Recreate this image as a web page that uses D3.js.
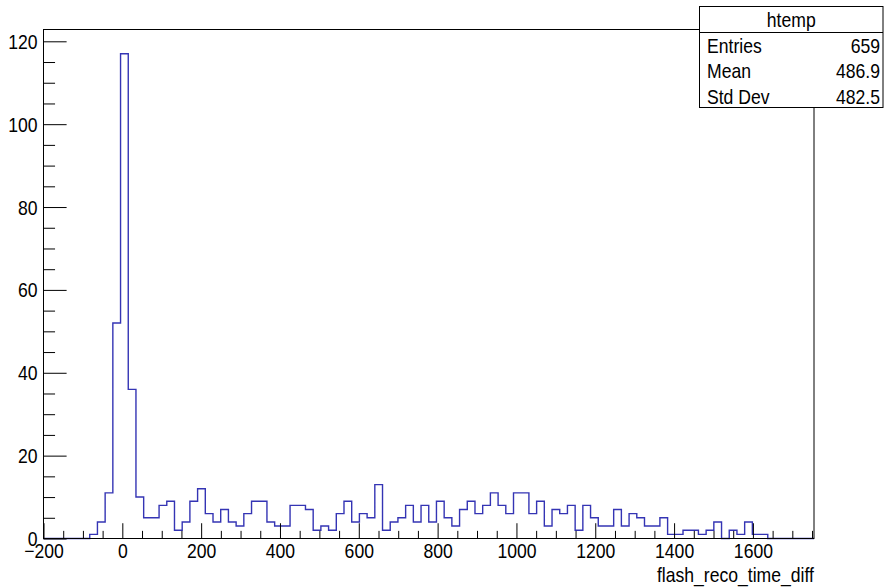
<!DOCTYPE html>
<html>
<head>
<meta charset="utf-8">
<script src="https://cdn.jsdelivr.net/npm/d3@7"></script>
<style>
  html, body { margin: 0; padding: 0; background: #fff; }
  svg { display: block; }
  text { font-family: "Liberation Sans", Arial, Helvetica, sans-serif; fill: #000; }
</style>
</head>
<body>
<svg id="chart" width="884" height="587"></svg>
<script>
// Histogram of flash_reco_time_diff: 100 equal bins between xMin and xMax
const histName = "htemp";
const xTitle = "flash_reco_time_diff";
const xMin = -200;
const xMax = 1755;
const binCounts = [
  0, 0, 0, 0, 0, 0, 1, 4, 11, 52,
  117, 36, 10, 5, 5, 8, 9, 2, 4, 9,
  12, 6, 4, 7, 4, 3, 6, 9, 9, 4,
  3, 3, 8, 8, 7, 2, 3, 2, 6, 9,
  4, 6, 5, 13, 2, 4, 5, 8, 4, 8,
  4, 9, 5, 3, 7, 9, 6, 8, 11, 8,
  6, 11, 11, 6, 9, 3, 7, 6, 8, 2,
  8, 5, 3, 3, 7, 3, 6, 5, 3, 3,
  5, 1, 1, 2, 2, 1, 2, 4, 0, 2,
  1, 4, 1, 1, 0, 0, 0, 0, 0, 0
];
const statLabels = ["Entries", "Mean", "Std Dev"];
const statValues = ["659", "486.9", "482.5"];
const xMajorTicks = [-200, 0, 200, 400, 600, 800, 1000, 1200, 1400, 1600];
const yMajorTicks = [0, 20, 40, 60, 80, 100, 120];

const svg = d3.select("#chart");
const frame = { left: 43.5, right: 814, top: 29.5, bottom: 538.5 };
const textScale = "scale(0.88,1)";
const lineColor = "#3434b4";

const nBins = binCounts.length;
const binWidth = (xMax - xMin) / nBins;
const yMax = 1.05 * d3.max(binCounts);

const x = d3.scaleLinear().domain([xMin, xMax]).range([frame.left, frame.right]);
const y = d3.scaleLinear().domain([0, yMax]).range([frame.bottom, frame.top]);

// step outline of the histogram
const pts = [[xMin, 0]];
binCounts.forEach((c, i) => {
  const lo = xMin + i * binWidth, hi = lo + binWidth;
  pts.push([lo, c], [hi, c]);
});
pts.push([xMax, 0]);
svg.append("path")
  .datum(pts)
  .attr("fill", "none")
  .attr("stroke", lineColor)
  .attr("stroke-width", 1.4)
  .attr("d", d3.line().x(d => x(d[0])).y(d => y(d[1])));

// frame
svg.append("rect")
  .attr("x", frame.left).attr("y", frame.top)
  .attr("width", frame.right - frame.left)
  .attr("height", frame.bottom - frame.top)
  .attr("fill", "none").attr("stroke", "#000").attr("stroke-width", 1);

// axes: ticks point into the frame
const frameW = frame.right - frame.left;
const frameH = frame.bottom - frame.top;
const xMinor = d3.range(-150, xMax, 50).filter(v => v % 200 !== 0);
const yMinor = d3.range(5, yMax, 5).filter(v => v % 20 !== 0);

function styleAxis(g) {
  g.select(".domain").remove();
  g.selectAll(".tick line").attr("stroke", "#000").attr("stroke-width", 1);
}

svg.append("g")
  .attr("transform", `translate(0,${frame.bottom})`)
  .call(d3.axisBottom(x).tickValues(xMinor).tickSize(-0.015 * frameH).tickFormat(""))
  .call(styleAxis);

const gx = svg.append("g")
  .attr("transform", `translate(0,${frame.bottom})`)
  .call(d3.axisBottom(x).tickValues(xMajorTicks).tickSize(-0.03 * frameH).tickFormat(d3.format("d")))
  .call(styleAxis);
gx.selectAll(".tick text")
  .attr("y", 19.5).attr("dy", null)
  .attr("transform", textScale)
  .style("font-size", "20px");

svg.append("g")
  .attr("transform", `translate(${frame.left},0)`)
  .call(d3.axisLeft(y).tickValues(yMinor).tickSize(-0.015 * frameW).tickFormat(""))
  .call(styleAxis);

const gy = svg.append("g")
  .attr("transform", `translate(${frame.left},0)`)
  .call(d3.axisLeft(y).tickValues(yMajorTicks).tickSize(-0.03 * frameW).tickFormat(d3.format("d")))
  .call(styleAxis);
gy.selectAll(".tick text")
  .attr("x", 0).attr("dy", "0.35em")
  .attr("transform", "translate(-6,0) " + textScale)
  .attr("text-anchor", "end")
  .style("font-size", "20px");

// axis title
svg.append("text")
  .attr("transform", `translate(${frame.right},582) ${textScale}`)
  .attr("text-anchor", "end")
  .style("font-size", "20px")
  .text(xTitle);

// statistics box
const box = { left: 699.5, right: 883, top: 6.5, bottom: 107.5, sep: 32.5 };
svg.append("rect")
  .attr("x", box.left).attr("y", box.top)
  .attr("width", box.right - box.left).attr("height", box.bottom - box.top)
  .attr("fill", "#fff").attr("stroke", "#000").attr("stroke-width", 1);
svg.append("line")
  .attr("x1", box.left).attr("x2", box.right)
  .attr("y1", box.sep).attr("y2", box.sep)
  .attr("stroke", "#000");
svg.append("text")
  .attr("transform", `translate(${(box.left + box.right) / 2},27) ${textScale}`)
  .attr("text-anchor", "middle")
  .style("font-size", "20px")
  .text(histName);
statLabels.forEach((lab, i) => {
  const base = 52.5 + i * 25.5;
  svg.append("text")
    .attr("transform", `translate(707,${base}) ${textScale}`)
    .style("font-size", "20px")
    .text(lab);
  svg.append("text")
    .attr("transform", `translate(880,${base}) ${textScale}`)
    .attr("text-anchor", "end")
    .style("font-size", "20px")
    .text(statValues[i]);
});
</script>
</body>
</html>
